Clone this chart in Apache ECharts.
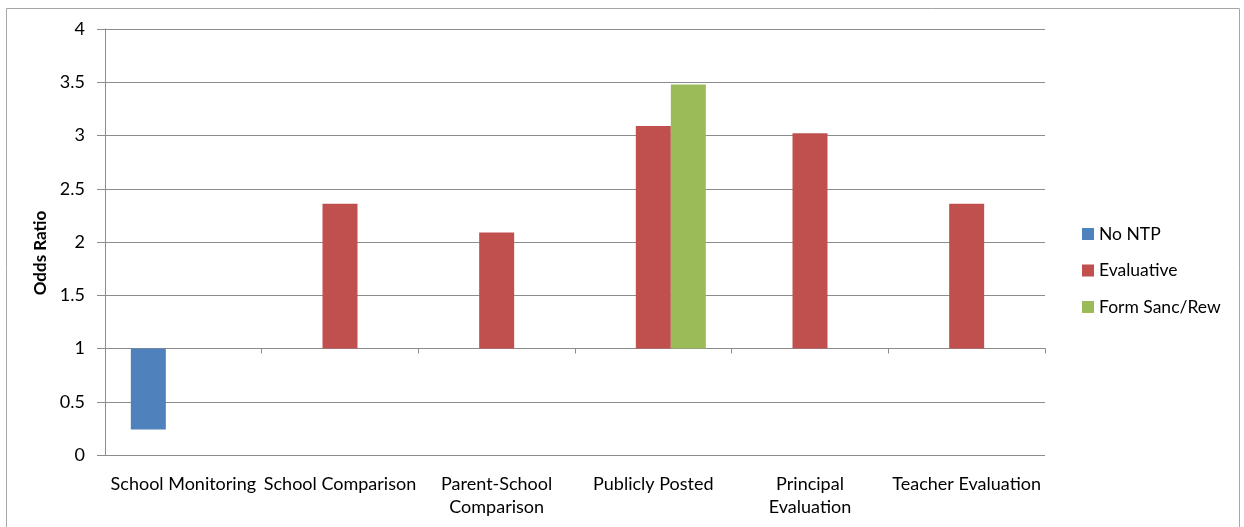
<!DOCTYPE html>
<html>
<head>
<meta charset="utf-8">
<title>Odds Ratio by Data Use</title>
<script src="https://cdn.jsdelivr.net/npm/echarts@6/dist/echarts.min.js"></script>
<style>
  html, body { margin: 0; padding: 0; background: #fff; }
  #chart { width: 1244px; height: 527px; }
</style>
</head>
<body>
<div id="chart"></div>
<script>
// Categories of data use
const categories = [
  'School Monitoring',
  'School Comparison',
  'Parent-School\nComparison',
  'Publicly Posted',
  'Principal\nEvaluation',
  'Teacher Evaluation'
];

// Odds ratios per accountability type (null = not reported)
const noNTP      = [0.24, null, null, null, null, null];
const evaluative = [null, 2.36, 2.09, 3.09, 3.02, 2.36];
const formSanc   = [null, null, null, 3.48, null, null];

const seriesNames = ['No NTP', 'Evaluative', 'Form Sanc/Rew'];
const colors = ['#4F81BD', '#C0504D', '#9BBB59'];

// Value-axis ticks (odds ratio)
const yMin = 0, yMax = 4, yStep = 0.5;

// Bars rise or fall from an odds ratio of 1: the value axis is shifted by
// the baseline so the category axis sits on 1 and bars grow from there.
const baseline = 1;
const shift = arr => arr.map(v => (v == null ? null : v - baseline));

const font = 'Lato, "Open Sans", sans-serif';
const gridColor = '#8c8c8c';

const chart = echarts.init(document.getElementById('chart'), null, { renderer: 'canvas' });

const barSeries = [noNTP, evaluative, formSanc].map((arr, i) => ({
  name: seriesNames[i],
  type: 'bar',
  xAxisIndex: 0,
  data: shift(arr),
  barWidth: 35,
  barGap: '0%',
  itemStyle: { color: colors[i] },
  emphasis: { disabled: true }
}));

chart.setOption({
  animation: false,
  textStyle: { fontFamily: font },
  graphic: [{
    type: 'rect',
    shape: { x: 6.5, y: 8.5, width: 1233, height: 540 },
    style: { fill: 'none', stroke: '#a6a6a6', lineWidth: 1 },
    silent: true,
    z: -1
  }],
  legend: {
    orient: 'vertical',
    left: 1077,
    top: 220,
    icon: 'rect',
    itemWidth: 12,
    itemHeight: 12,
    itemGap: 18.5,
    data: seriesNames,
    textStyle: { fontFamily: font, fontSize: 17.5, color: '#000', lineHeight: 14 }
  },
  grid: { left: 105, right: 199, top: 29, bottom: 72, containLabel: false },
  xAxis: [
    {
      // axis line drawn at odds ratio 1
      type: 'category',
      data: categories,
      position: 'bottom',
      axisLine: { onZero: true, lineStyle: { color: gridColor, width: 1 } },
      axisTick: { show: true, length: 5, lineStyle: { color: gridColor } },
      axisLabel: { show: false },
      splitLine: { show: false }
    },
    {
      // category labels along the bottom of the plot
      type: 'category',
      data: categories,
      position: 'bottom',
      axisLine: { show: false, onZero: false },
      axisTick: { show: false },
      axisLabel: {
        show: true,
        interval: 0,
        margin: 18,
        fontFamily: font,
        fontSize: 18,
        lineHeight: 23,
        color: '#000'
      },
      splitLine: { show: false }
    }
  ],
  yAxis: {
    type: 'value',
    min: yMin - baseline,
    max: yMax - baseline,
    interval: yStep,
    name: 'Odds Ratio',
    nameLocation: 'middle',
    nameRotate: 90,
    nameGap: 47,
    nameTextStyle: {
      fontFamily: font, fontSize: 17, fontWeight: 'bold', color: '#000',
      padding: [0, 22, 0, 0]
    },
    axisLine: { show: true, lineStyle: { color: gridColor, width: 1 } },
    axisTick: { show: true, length: 8, lineStyle: { color: gridColor } },
    axisLabel: {
      margin: 20,
      fontFamily: font,
      fontSize: 18,
      color: '#000',
      formatter: v => String(+(v + baseline).toFixed(2))
    },
    splitLine: { show: true, lineStyle: { color: gridColor, width: 1 } }
  },
  series: barSeries
});
</script>
</body>
</html>
